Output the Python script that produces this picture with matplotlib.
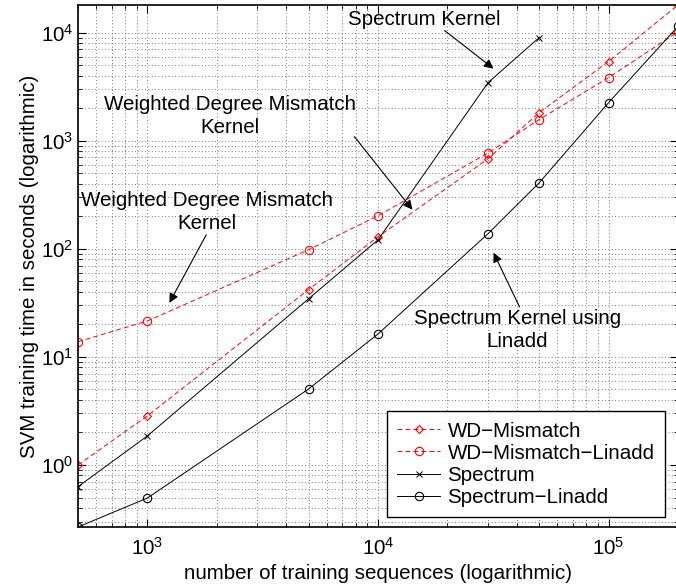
import numpy as np
import matplotlib.pyplot as plt
from matplotlib.ticker import LogLocator, NullFormatter

plt.rcParams['font.family'] = ['Liberation Sans', 'DejaVu Sans']
plt.rcParams['mathtext.default'] = 'regular'

# number of training sequences
n_train = [500, 1000, 5000, 10000, 30000, 50000, 100000, 200000]
n_spec = [500, 1000, 5000, 10000, 30000, 50000]

# training times in seconds
wd_mismatch = [1.0, 2.85, 42, 129, 680, 1820, 5400, 18000]
wd_mismatch_linadd = [13.8, 21.5, 98, 202, 770, 1570, 3830, 10200]
spectrum = [0.63, 1.86, 34.5, 121, 3440, 9000]
spectrum_linadd = [0.267, 0.495, 5.05, 16.3, 138, 408, 2250, 11400]

fs = 14.8

fig = plt.figure(figsize=(6.76, 5.87), dpi=100)
ax = fig.add_axes([78 / 676, 60 / 587, 600 / 676, 522 / 587])

red = (1, 0, 0)
dash = (0, (5, 3.2))
ax.plot(n_train, wd_mismatch, color=red, ls=dash, lw=0.7, marker='D', ms=4.2,
        mfc='none', mew=0.8, label='WD\u2212Mismatch')
ax.plot(n_train, wd_mismatch_linadd, color=red, ls=dash, lw=0.7, marker='o', ms=6,
        mfc='none', mew=0.8, label='WD\u2212Mismatch\u2212Linadd')
ax.plot(n_spec, spectrum, color='k', ls='-', lw=0.7, marker='x', ms=4,
        mew=0.7, label='Spectrum')
ax.plot(n_train, spectrum_linadd, color='k', ls='-', lw=0.7, marker='o', ms=6,
        mfc='none', mew=0.8, label='Spectrum\u2212Linadd')

ax.set_xscale('log')
ax.set_yscale('log')
ax.set_xlim(min(n_train), max(n_train))
ax.set_ylim(min(spectrum_linadd), max(wd_mismatch))

ax.xaxis.set_major_locator(LogLocator(base=10, numticks=10))
ax.yaxis.set_major_locator(LogLocator(base=10, numticks=10))
ax.xaxis.set_minor_locator(LogLocator(base=10, subs=np.arange(2, 10), numticks=20))
ax.yaxis.set_minor_locator(LogLocator(base=10, subs=np.arange(2, 10), numticks=20))
ax.xaxis.set_minor_formatter(NullFormatter())
ax.yaxis.set_minor_formatter(NullFormatter())

ax.tick_params(which='both', direction='in', top=True, right=True, labelsize=fs)
ax.tick_params(which='major', length=6, width=0.8)
ax.tick_params(which='minor', length=3, width=0.6)
ax.tick_params(axis='x', pad=7)
ax.grid(True, which='both', ls=(0, (1, 3)), color='0.3', lw=0.6)
for s in ax.spines.values():
    s.set_linewidth(1.2)

ax.set_xlabel('number of training sequences (logarithmic)', fontsize=fs, labelpad=4)
ax.set_ylabel('SVM training time in seconds (logarithmic)', fontsize=fs, labelpad=1)

# annotations
arrow = dict(arrowstyle='-|>', color='k', lw=0.8, mutation_scale=14,
             shrinkA=0, shrinkB=0)
ax.text(15900, 13200, 'Spectrum Kernel', fontsize=fs, ha='center', va='center')
ax.annotate('', xy=(31700, 4640), xytext=(19450, 10440), arrowprops=arrow)

ax.text(2270, 1700, 'Weighted Degree Mismatch\nKernel', fontsize=fs,
        ha='center', va='center', linespacing=1.3)
ax.annotate('', xy=(14100, 230), xytext=(7900, 1090), arrowprops=arrow)

ax.text(1820, 220, 'Weighted Degree Mismatch\nKernel', fontsize=fs,
        ha='center', va='center', linespacing=1.3)
ax.annotate('', xy=(1245, 31.6), xytext=(1800, 135), arrowprops=arrow)

ax.text(40300, 17.8, 'Spectrum Kernel using\nLinadd', fontsize=fs,
        ha='center', va='center', linespacing=1.3)
ax.annotate('', xy=(31700, 92), xytext=(41100, 29), arrowprops=arrow)

leg = ax.legend(loc='lower right', fontsize=fs, fancybox=False, framealpha=1,
                edgecolor='k', handlelength=2.1, borderaxespad=0,
                labelspacing=0.15, borderpad=0.5, handletextpad=0.35,
                bbox_to_anchor=(0.978, 0.019))
leg.get_frame().set_linewidth(1.0)

fig.savefig('out.png', dpi=100)
